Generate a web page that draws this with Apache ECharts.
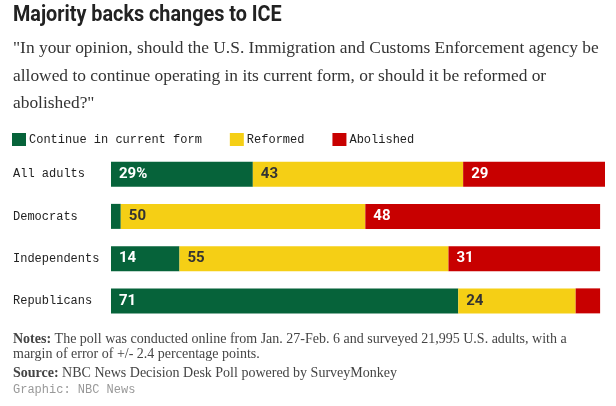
<!DOCTYPE html>
<html><head><meta charset="utf-8">
<script src="https://cdn.jsdelivr.net/npm/echarts@6/dist/echarts.min.js"></script>
<style>html,body{margin:0;padding:0;background:#fff}#c{width:616px;height:406px}</style>
</head><body><div id="c"></div>
<script>
const categories = ["All adults", "Democrats", "Independents", "Republicans"];
const continueVals = [29, 2, 14, 71];
const reformedVals = [43, 50, 55, 24];
const abolishedVals = [29, 48, 31, 5];
const seriesNames = ["Continue in current form", "Reformed", "Abolished"];

const GREEN = "#06633a", YELLOW = "#f5cf15", RED = "#c80000";
const mono = "'Liberation Mono', 'DejaVu Sans Mono', monospace";
const serif = "'Liberation Serif', serif";
const cond = "'Roboto', sans-serif";

function lbl(color, pct) {
  return {
    show: true, position: 'insideLeft', distance: 8,
    color: color, fontFamily: cond, fontWeight: 'bold', fontSize: 15,
    formatter: p => p.value < 6 ? '' : (pct && p.dataIndex === 0 ? p.value + '%' : String(p.value))
  };
}

const chart = echarts.init(document.getElementById('c'), null, {renderer: 'canvas'});
chart.setOption({
  animation: false,
  grid: {left: 111, right: 11, top: 153, height: 169},
  legend: {
    left: 12, top: 133, padding: 0, itemWidth: 14, itemHeight: 13, itemGap: 28,
    icon: 'rect', selectedMode: false,
    textStyle: {fontFamily: mono, fontSize: 12, color: '#222', padding: [0,0,0,-2]},
    data: seriesNames
  },
  xAxis: {type: 'value', min: 0, max: 101, show: false},
  yAxis: {
    type: 'category', data: categories, inverse: true,
    axisLine: {show: false}, axisTick: {show: false},
    axisLabel: {align: 'left', margin: 98, fontFamily: mono, fontSize: 12, color: '#222'}
  },
  series: [
    {name: seriesNames[0], type: 'bar', stack: 's', barWidth: 25, data: continueVals, itemStyle: {color: GREEN}, label: lbl('#fff', true)},
    {name: seriesNames[1], type: 'bar', stack: 's', barWidth: 25, data: reformedVals, itemStyle: {color: YELLOW}, label: lbl('#333', false)},
    {name: seriesNames[2], type: 'bar', stack: 's', barWidth: 25, data: abolishedVals, itemStyle: {color: RED}, label: lbl('#fff', false)}
  ],
  graphic: [
    {type: 'text', x: 13, y: 4, scaleX: 0.9, style: {text: 'Majority backs changes to ICE', font: "bold 22px " + cond, fill: '#222'}},
    {type: 'text', left: 13, top: 35, style: {
      text: '"In your opinion, should the U.S. Immigration and Customs Enforcement agency be\nallowed to continue operating in its current form, or should it be reformed or\nabolished?"',
      font: "17.4px " + serif, fill: '#333', lineHeight: 27.5}},
    {type: 'text', left: 13, top: 332, style: {
      rich: {b: {fontFamily: serif, fontWeight: 'bold', fontSize: 14, fill: '#444', lineHeight: 15}, n: {fontFamily: serif, fontSize: 14, fill: '#444', lineHeight: 15}},
      text: '{b|Notes:}{n| The poll was conducted online from Jan. 27-Feb. 6 and surveyed 21,995 U.S. adults, with a}\n{n|margin of error of +/- 2.4 percentage points.}'}},
    {type: 'text', left: 13, top: 366, style: {
      rich: {b: {fontFamily: serif, fontWeight: 'bold', fontSize: 14, fill: '#444'}, n: {fontFamily: serif, fontSize: 14, fill: '#444'}},
      text: '{b|Source:}{n| NBC News Decision Desk Poll powered by SurveyMonkey}'}},
    {type: 'text', left: 13, top: 384, style: {text: 'Graphic: NBC News', font: "12px " + mono, fill: '#999'}}
  ]
});
</script></body></html>
